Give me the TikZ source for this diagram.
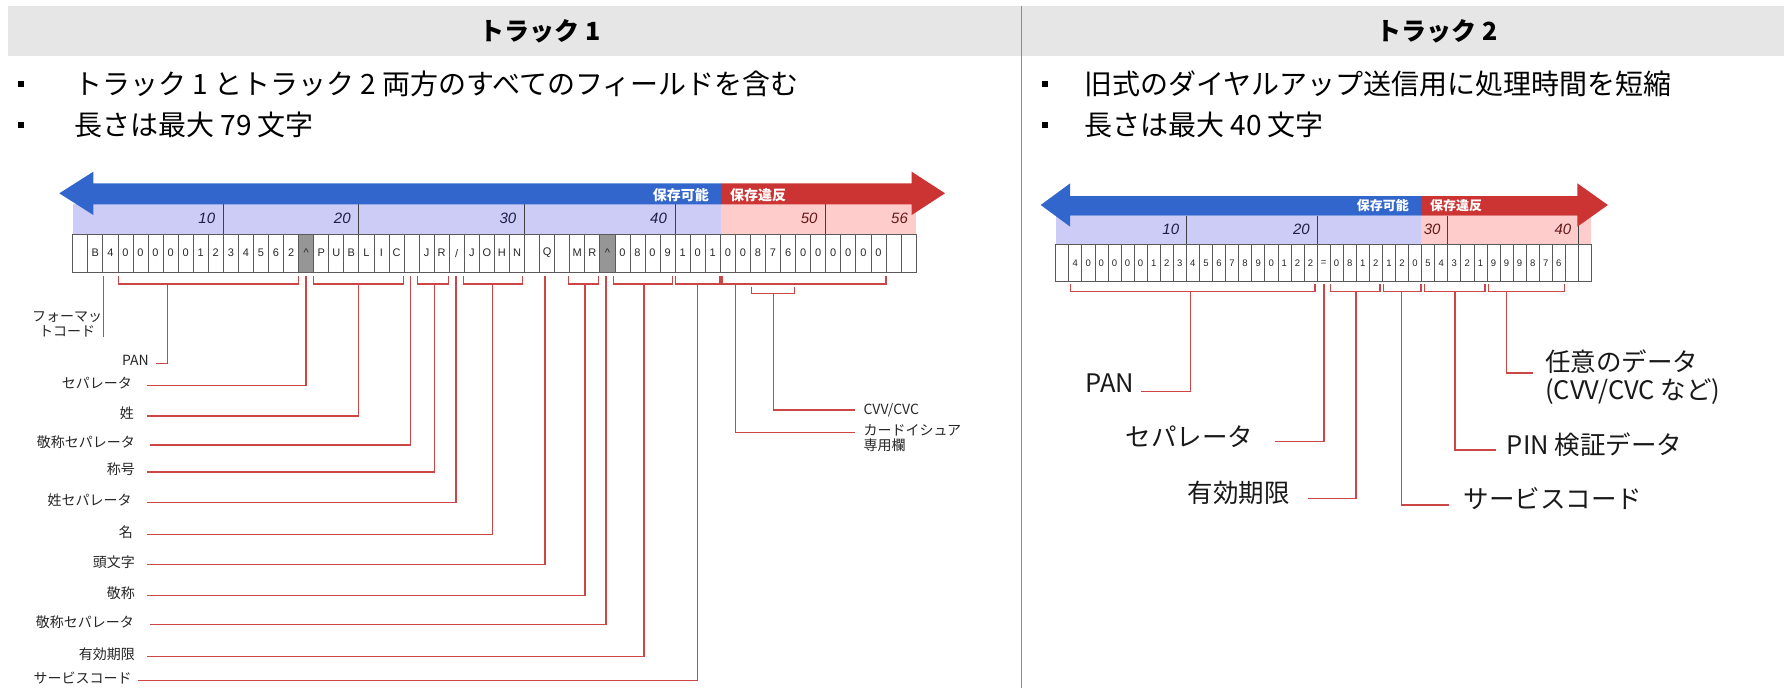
\documentclass[tikz,border=0pt]{standalone}
\usepackage{fontspec}
\setmainfont{Noto Sans CJK JP}
\newfontfamily\arialf{Liberation Sans}
\usetikzlibrary{calc}
\definecolor{arrblue}{RGB}{51,102,204}
\definecolor{arrred}{RGB}{204,51,51}
\definecolor{bandblue}{RGB}{204,204,247}
\definecolor{bandpink}{RGB}{255,204,204}
\definecolor{linered}{RGB}{204,70,70}
\definecolor{hdrgray}{RGB}{230,230,230}
\definecolor{cellgray}{RGB}{90,90,90}
\definecolor{sepfill}{RGB}{150,150,150}
\definecolor{numblue}{RGB}{30,30,70}
\definecolor{numred}{RGB}{100,25,25}
\newcommand\mybrk[4]{\draw[rl] (#1,#3) -- (#1,#4) -- (#2,#4) -- (#2,#3);}
\begin{document}
\begin{tikzpicture}[x=1pt,y=-1pt,
  rl/.style={draw=linered, line width=1.3pt},
  t1cell/.style={draw=cellgray, line width=0.7pt, minimum width=15.06pt, minimum height=38.3pt, inner sep=0pt, outer sep=0pt, font=\arialf\fontsize{11}{12}\selectfont, text=black!85},
  t2cell/.style={draw=cellgray, line width=0.6pt, minimum width=13.07pt, minimum height=37.4pt, inner sep=0pt, outer sep=0pt, font=\arialf\fontsize{9.5}{11}\selectfont, text=black!85},
  bandnum/.style={font=\arialf\itshape\fontsize{15}{17}\selectfont, inner sep=0pt, anchor=east},
  divider/.style={draw=black!75, line width=0.8pt},
  lbl1/.style={font=\fontsize{14}{15}\selectfont, inner sep=0pt, text=black!85},
  lbl2/.style={font=\fontsize{25.5}{28}\selectfont, inner sep=0pt, text=black!90},
  store/.style={font=\bfseries\fontsize{14}{16}\selectfont, text=white, inner sep=0pt},
  hdr/.style={font=\bfseries\fontsize{25}{28}\selectfont, inner sep=0pt},
  bul/.style={font=\fontsize{28}{30}\selectfont, inner sep=0pt, anchor=west},
  bsq/.style={fill=black, minimum size=6.5pt, inner sep=0pt}]
\useasboundingbox (0,0) rectangle (1784,688);

% ---------- header ----------
\fill[hdrgray] (8,6) rectangle (1784,56);
\draw[black!45, line width=1pt] (1021,6) -- (1021,688);
\node[hdr] (h1) at (540,31) {トラック 1};
\node[hdr] (h2) at (1437,31) {トラック 2};

\node[bsq] (q1) at (21,84) {};
\node[bsq] (q2) at (21,125) {};
\node[bsq] (q3) at (1045,84) {};
\node[bsq] (q4) at (1045,125) {};
\node[bul] (b1) at (74,84) {トラック 1 とトラック 2 両方のすべてのフィールドを含む};
\node[bul] (b2) at (74,125) {長さは最大 79 文字};
\node[bul] (b3) at (1084,84) {旧式のダイヤルアップ送信用に処理時間を短縮};
\node[bul] (b4) at (1084,125) {長さは最大 40 文字};

% ---------- track 1 strip ----------
\fill[bandblue] (72.7,204.3) rectangle (721,234);
\fill[bandpink] (721,204.3) rectangle (916,234);
\foreach \k in {10,19,30,40,50}
  \draw[divider] ({72.7+\k*15.06},204.3) -- ({72.7+\k*15.06},234);
\foreach \k/\n/\c in {10/10/numblue,19/20/numblue,30/30/numblue,40/40/numblue,50/50/numred,56/56/numred}
  \node[bandnum, text=\c] (n1-\n) at ({72.7+\k*15.06-8},218.5) {\n};
\foreach \t [count=\i] in {{},B,4,0,0,0,0,0,1,2,3,4,5,6,2,{},P,U,B,L,I,C,{},J,R,/,J,O,H,N,{},Q,{},M,R,{},0,8,0,9,1,0,1,0,0,8,7,6,0,0,0,0,0,0,{},{}}
  \node[t1cell, anchor=north west] (t1c\i) at ({72.7+(\i-1)*15.06},234) {\t};
\foreach \k in {16,36}
  \node[t1cell, fill=sepfill] (t1g\k) at (t1c\k.center) {\textasciicircum};

\fill[arrblue] (59.3,193.3) -- (93.3,171.7) -- (93.3,183.3) -- (721,183.3) -- (721,204.3) -- (93.3,204.3) -- (93.3,215) -- cycle;
\fill[arrred] (721,183.3) -- (911.7,183.3) -- (911.7,171.7) -- (945,193.3) -- (911.7,215) -- (911.7,204.3) -- (721,204.3) -- cycle;
\node[store, anchor=east] (st1a) at (709,195.5) {保存可能};
\node[store, anchor=west] (st1b) at (730,195.5) {保存違反};

% brackets track 1
\mybrk{118.3}{298.3}{276}{284}
\mybrk{313.3}{403.3}{276}{284}
\mybrk{417.7}{448.3}{276}{284}
\mybrk{463.3}{522.7}{276}{284}
\mybrk{568.3}{598.3}{276}{284}
\mybrk{613.3}{672.7}{276}{284}
\mybrk{675.7}{720}{276}{284}
\mybrk{722}{886}{276}{284}
\mybrk{751.7}{794.3}{286.5}{293.3}

\coordinate (s-fmt) at (103.3,276);
\coordinate (s-pan) at (167.3,284);
\coordinate (s-sep) at (306,276);
\coordinate (s-last) at (358.3,284);
\coordinate (s-tsep) at (410.7,276);
\coordinate (s-title) at (434.3,284);
\coordinate (s-lsep) at (456,276);
\coordinate (s-first) at (492.7,284);
\coordinate (s-mi) at (545,276);
\coordinate (s-hon) at (585,284);
\coordinate (s-hsep) at (606,276);
\coordinate (s-exp) at (644,284);
\coordinate (s-svc) at (697.3,284);
\coordinate (s-cvv) at (773.7,293.3);
\coordinate (s-disc) at (735.7,284);

\node[lbl1, align=center] (l-fmt) at (67,324.5) {フォーマッ\\トコード};
\draw[rl] (s-fmt) -- (s-fmt |- l-fmt.south);

\foreach \nm/\tx/\rx/\ly/\lx in {pan/PAN/149/363.3/156, sep/セパレータ/132/385.7/146.7, last/姓/134/416/147, tsep/敬称セパレータ/135/445/150, title/称号/135/472/147, lsep/姓セパレータ/131.7/502.7/147.3, first/名/133/534.7/147, mi/頭文字/135/564.7/147, hon/敬称/135/595.3/147, hsep/敬称セパレータ/134/624.7/150, exp/有効期限/135/656.3/147, svc/サービスコード/131.7/680.7/138}{
  \node[lbl1, anchor=east] (l-\nm) at (\rx,\ly-2.5) {\tx};
  \draw[rl] (l-\nm.east) ++({\lx-\rx},2.5) -| (s-\nm);
}

\node[lbl1, anchor=west] (l-cvv) at (863.3,410) {CVV/CVC};
\draw[rl] (s-cvv) |- ([xshift=-8pt]l-cvv.west);
\node[lbl1, anchor=west, align=left] (l-iss) at (863.3,438) {カードイシュア\\専用欄};
\draw[rl] (s-disc) |- ([xshift=-8pt,yshift=5.5pt]l-iss.west);

% ---------- track 2 strip ----------
\fill[bandblue] (1055.6,215.7) rectangle (1421.1,244.3);
\fill[bandpink] (1421.1,215.7) rectangle (1591.4,244.3);
\foreach \k in {10,20,30,40}
  \draw[divider] ({1055.6+\k*13.07},215.7) -- ({1055.6+\k*13.07},244.3);
\foreach \k/\c in {10/numblue,20/numblue,30/numred,40/numred}
  \node[bandnum, text=\c] (n2-\k) at ({1055.6+\k*13.07-7},229.8) {\k};
\foreach \t [count=\i] in {{},4,0,0,0,0,0,1,2,3,4,5,6,7,8,9,0,1,2,2,=,0,8,1,2,1,2,0,5,4,3,2,1,9,9,9,8,7,6,{},{}}
  \node[t2cell, anchor=north west] (t2c\i) at ({1055.6+(\i-1)*13.07},244.3) {\t};

\fill[arrblue] (1040.7,205) -- (1070.2,183.3) -- (1070.2,196) -- (1421.1,196) -- (1421.1,215.7) -- (1070.2,215.7) -- (1070.2,226.7) -- cycle;
\fill[arrred] (1421.1,196) -- (1577.3,196) -- (1577.3,183.3) -- (1607.9,205) -- (1577.3,226.7) -- (1577.3,215.7) -- (1421.1,215.7) -- cycle;
\node[store, font=\bfseries\fontsize{13}{15}\selectfont, anchor=east] (st2a) at (1409,206) {保存可能};
\node[store, font=\bfseries\fontsize{13}{15}\selectfont, anchor=west] (st2b) at (1430,206) {保存違反};

% brackets track 2
\mybrk{1070.7}{1315}{284}{291.7}
\mybrk{1330.7}{1380}{284}{291.7}
\mybrk{1383.3}{1421}{284}{291.7}
\mybrk{1424.3}{1485}{284}{291.7}
\mybrk{1488.3}{1564.2}{284}{291.7}

\coordinate (t-pan) at (1190.7,291.7);
\coordinate (t-sep) at (1324,284);
\coordinate (t-exp) at (1356,291.7);
\coordinate (t-svc) at (1401.7,291.7);
\coordinate (t-pin) at (1455,291.7);
\coordinate (t-disc) at (1506.7,291.7);

\node[lbl2, anchor=east] (l2-pan) at (1134.3,383.3) {PAN};
\draw[rl] (l2-pan.east) ++(6.7,8.4) -| (t-pan);
\node[lbl2, anchor=east] (l2-sep) at (1253.3,436.7) {セパレータ};
\draw[rl] (l2-sep.east) ++(21.7,5) -| (t-sep);
\node[lbl2, anchor=east] (l2-exp) at (1290,493.3) {有効期限};
\draw[rl] (l2-exp.east) ++(18.3,5) -| (t-exp);
\node[lbl2, anchor=west] (l2-svc) at (1463.3,498.3) {サービスコード};
\draw[rl] (l2-svc.west) ++(-14,6.7) -| (t-svc);
\node[lbl2, anchor=west] (l2-pin) at (1506.7,445) {PIN 検証データ};
\draw[rl] (l2-pin.west) ++(-10.7,5) -| (t-pin);
\node[lbl2, anchor=west, align=left] (l2-opt) at (1545,377) {任意のデータ\\(CVV/CVC など)};
\draw[rl] (l2-opt.west) ++(-12.3,-4) -| (t-disc);
\end{tikzpicture}
\end{document}
